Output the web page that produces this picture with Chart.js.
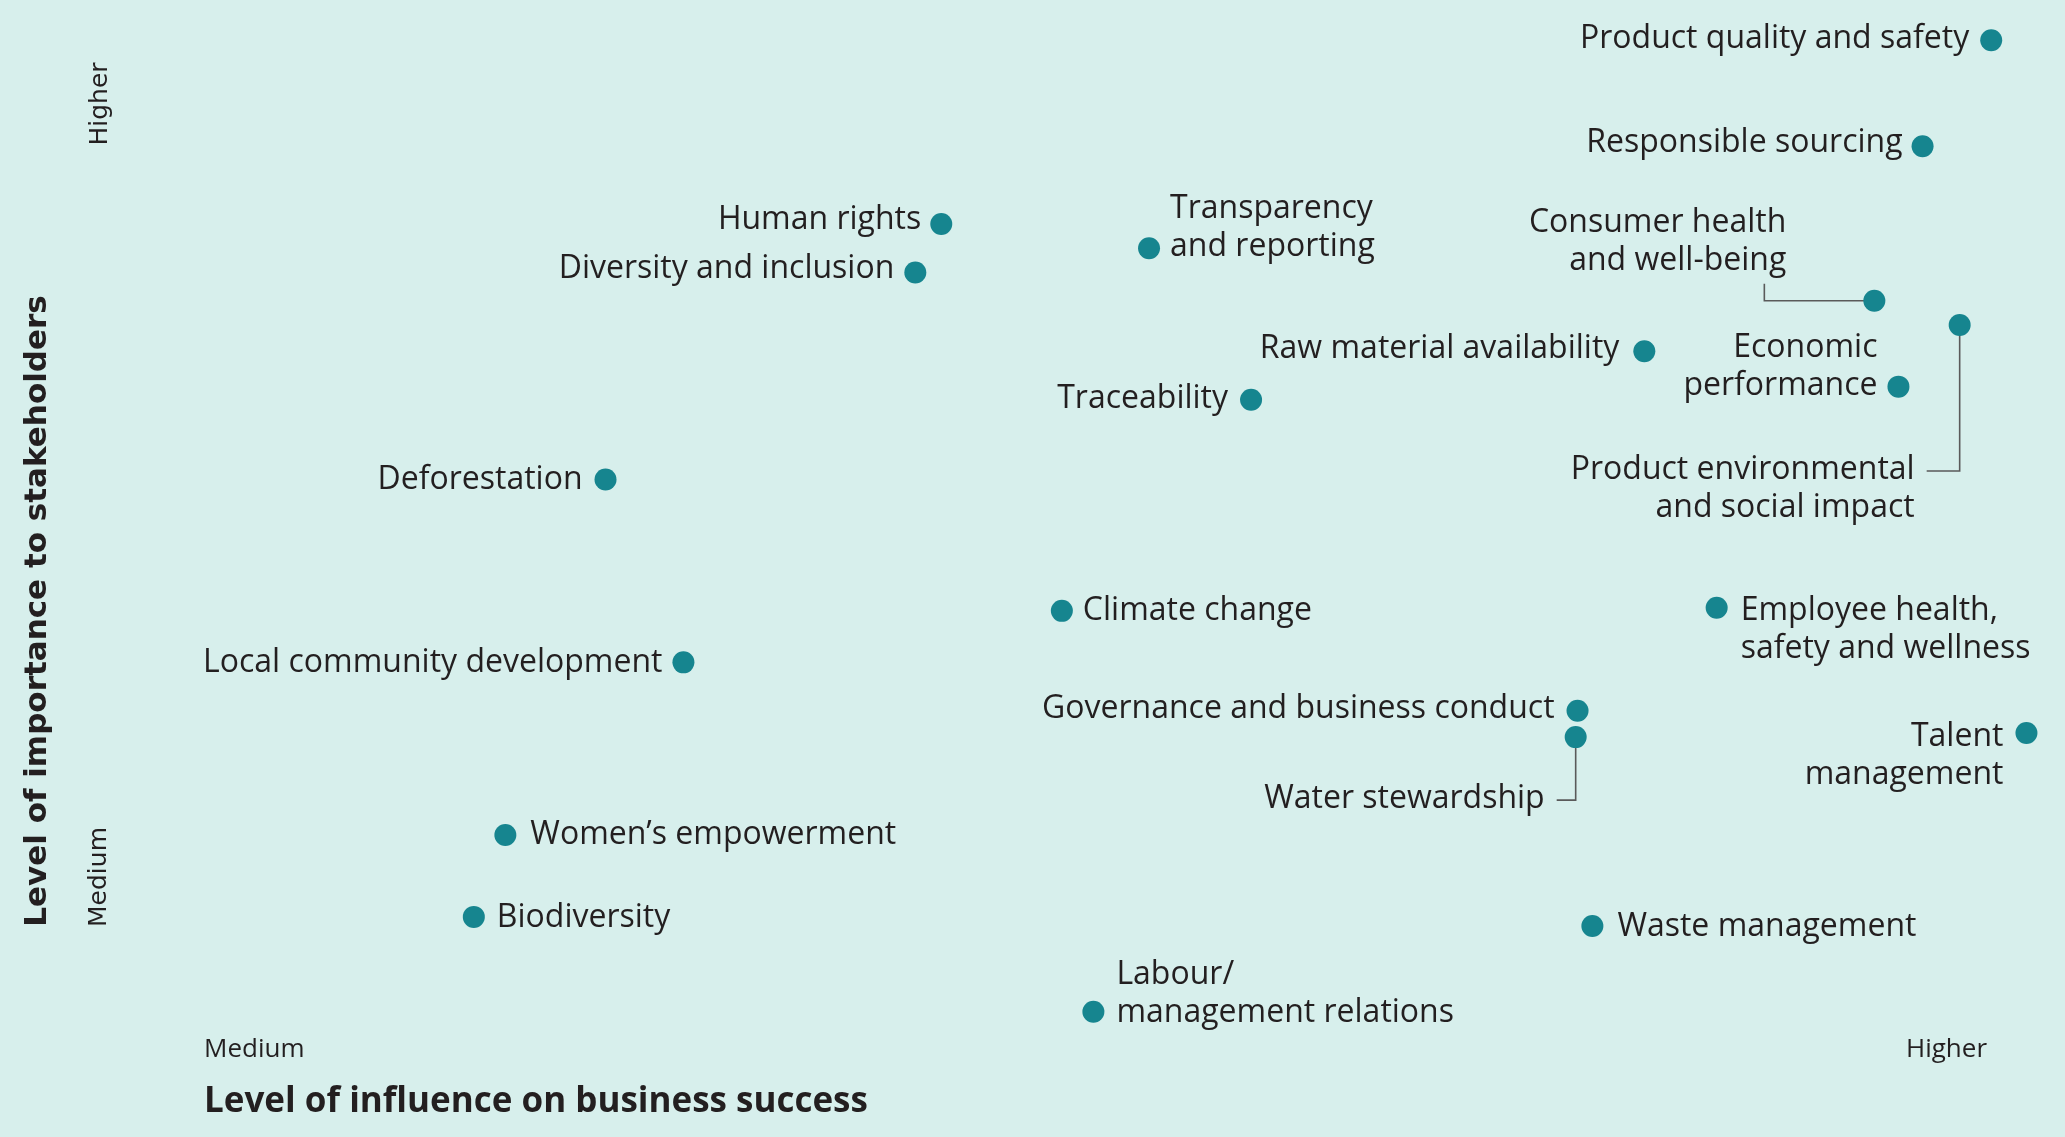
<!DOCTYPE html>
<html>
<head>
<meta charset="utf-8">
<script src="https://cdn.jsdelivr.net/npm/chart.js@4.4.1/dist/chart.umd.min.js"></script>
<style>
  html, body { margin: 0; padding: 0; background: #d7efec; }
  #wrap { width: 2065px; height: 1137px; position: relative; }
</style>
</head>
<body>
<div id="wrap"><canvas id="matrix"></canvas></div>
<script>
// material topics, influence on business success (x) and importance to stakeholders (y), 0-100
const topics = [
  'Product quality and safety',
  'Responsible sourcing',
  'Human rights',
  'Transparency and reporting',
  'Diversity and inclusion',
  'Consumer health and well-being',
  'Product environmental and social impact',
  'Raw material availability',
  'Economic performance',
  'Traceability',
  'Deforestation',
  'Climate change',
  'Employee health, safety and wellness',
  'Local community development',
  'Governance and business conduct',
  'Talent management',
  'Water stewardship',
  'Women\u2019s empowerment',
  'Biodiversity',
  'Waste management',
  'Labour/management relations'
];
const influence = [97.1, 93.4, 40.5, 51.7, 39.1, 90.8, 95.4, 78.4, 92.1, 57.2, 22.4,
                   47.0, 82.3, 26.6, 74.8, 99.0, 74.7, 17.0, 15.3, 75.6, 48.7];
const importance = [98.0, 87.5, 79.8, 77.4, 75.0, 72.2, 69.8, 67.2, 63.7, 62.4, 54.5,
                    41.5, 41.8, 36.4, 31.6, 29.4, 29.0, 19.3, 11.2, 10.3, 1.8];

const xAxisTitle = 'Level of influence on business success';
const yAxisTitle = 'Level of importance to stakeholders';
const lowLabel = 'Medium';
const highLabel = 'Higher';

// how each label sits next to its dot (pixels from the dot centre, first line baseline)
const labelLayout = {
  'Product quality and safety': { align: 'right', dx: -22, dy: 8 },
  'Responsible sourcing': { align: 'right', dx: -20, dy: 6 },
  'Human rights': { align: 'right', dx: -20, dy: 5 },
  'Transparency and reporting': { lines: ['Transparency', 'and reporting'], align: 'left', dx: 21, dy: -30 },
  'Diversity and inclusion': { align: 'right', dx: -21, dy: 5 },
  'Consumer health and well-being': { lines: ['Consumer health', 'and well-being'], align: 'right', dx: -88, dy: -69,
    leader: [[0, 0], [-110, 0], [-110, -17]] },
  'Product environmental and social impact': { lines: ['Product environmental', 'and social impact'], align: 'right', dx: -45, dy: 154,
    leader: [[0, 0], [0, 146], [-33, 146]] },
  'Raw material availability': { align: 'right', dx: -25, dy: 7 },
  'Economic performance': { lines: ['Economic', 'performance'], align: 'right', dx: -21, dy: -30 },
  'Traceability': { align: 'right', dx: -23, dy: 8 },
  'Deforestation': { align: 'right', dx: -23, dy: 9 },
  'Climate change': { align: 'left', dx: 21, dy: 9 },
  'Employee health, safety and wellness': { lines: ['Employee health,', 'safety and wellness'], align: 'left', dx: 24, dy: 12 },
  'Local community development': { align: 'right', dx: -21, dy: 10 },
  'Governance and business conduct': { align: 'right', dx: -23, dy: 7 },
  'Talent management': { lines: ['Talent', 'management'], align: 'right', dx: -23, dy: 13 },
  'Water stewardship': { align: 'right', dx: -31, dy: 71,
    leader: [[0, 0], [0, 63], [-19, 63]] },
  'Women\u2019s empowerment': { align: 'left', dx: 25, dy: 9 },
  'Biodiversity': { align: 'left', dx: 23, dy: 10 },
  'Waste management': { align: 'left', dx: 25, dy: 10 },
  'Labour/management relations': { lines: ['Labour/', 'management relations'], align: 'left', dx: 23, dy: -28 }
};

const ink = '#231f20';
const dotColour = '#16858f';
const labelFont = '32px "Open Sans"';
const lineGap = 38;

const topicLabels = {
  id: 'topicLabels',
  beforeDatasetsDraw(chart) {
    const ctx = chart.ctx;
    const pts = chart.getDatasetMeta(0).data;
    ctx.save();
    ctx.strokeStyle = '#5a5a5a';
    ctx.lineWidth = 1.6;
    topics.forEach((t, i) => {
      const lay = labelLayout[t];
      if (!lay.leader) return;
      const p = pts[i];
      ctx.beginPath();
      lay.leader.forEach(([dx, dy], k) => {
        if (k === 0) ctx.moveTo(p.x + dx, p.y + dy);
        else ctx.lineTo(p.x + dx, p.y + dy);
      });
      ctx.stroke();
    });
    ctx.restore();
  },
  afterDatasetsDraw(chart) {
    const ctx = chart.ctx;
    const pts = chart.getDatasetMeta(0).data;
    ctx.save();
    ctx.fillStyle = ink;
    ctx.font = labelFont;
    ctx.textBaseline = 'alphabetic';
    topics.forEach((t, i) => {
      const lay = labelLayout[t];
      const p = pts[i];
      const lines = lay.lines || [t];
      ctx.textAlign = lay.align;
      lines.forEach((ln, k) => {
        ctx.fillText(ln, p.x + lay.dx, p.y + lay.dy + k * lineGap);
      });
    });

    // axis words and titles
    const area = chart.chartArea;
    ctx.textAlign = 'left';
    ctx.font = '26px "Open Sans"';
    ctx.fillText(lowLabel, area.left + 14, area.bottom + 27);
    ctx.fillText(highLabel, area.left + 1716, area.bottom + 27);
    ctx.font = 'bold 35px "Open Sans"';
    ctx.fillText(xAxisTitle, area.left + 14, area.bottom + 82);

    const vtext = (txt, font, x, y) => {
      ctx.save();
      ctx.translate(x, y);
      ctx.rotate(-Math.PI / 2);
      ctx.font = font;
      ctx.textAlign = 'center';
      ctx.fillText(txt, 0, 0);
      ctx.restore();
    };
    vtext(yAxisTitle, 'bold 31px "DejaVu Sans"', area.left - 144, 611);
    vtext(highLabel, '25px "DejaVu Sans"', area.left - 83, 104);
    vtext(lowLabel, '25px "DejaVu Sans"', area.left - 84, 877);
    ctx.restore();
  }
};

new Chart('matrix', {
  type: 'scatter',
  data: {
    labels: topics,
    datasets: [{
      data: topics.map((t, i) => ({ x: influence[i], y: importance[i] })),
      backgroundColor: dotColour,
      borderWidth: 0,
      pointRadius: 11,
      pointHoverRadius: 11
    }]
  },
  options: {
    responsive: true,
    maintainAspectRatio: false,
    animation: false,
    devicePixelRatio: 1,
    layout: { padding: { left: 190, right: 20, top: 20, bottom: 107 } },
    scales: {
      x: { type: 'linear', min: 0, max: 100, display: false },
      y: { type: 'linear', min: 0, max: 100, display: false }
    },
    plugins: {
      legend: { display: false },
      tooltip: { enabled: false }
    }
  },
  plugins: [topicLabels]
});
</script>
</body>
</html>
